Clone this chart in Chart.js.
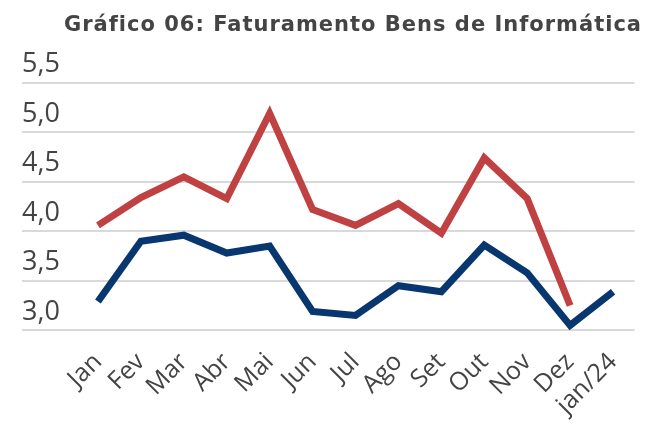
<!DOCTYPE html>
<html>
<head>
<meta charset="utf-8">
<script src="https://cdn.jsdelivr.net/npm/chart.js@4"></script>
<style>
  html, body { margin: 0; padding: 0; background: #fff; }
  #wrap { width: 671px; height: 431px; }
</style>
</head>
<body>
<div id="wrap"><canvas id="chart" width="671" height="431"></canvas></div>
<script>
/* ── data ── */
const months = ['Jan','Fev','Mar','Abr','Mai','Jun','Jul','Ago','Set','Out','Nov','Dez','jan/24'];
const serieVermelha = [4.06, 4.34, 4.55, 4.33, 5.19, 4.22, 4.06, 4.28, 3.98, 4.74, 4.33, 3.25, null];
const serieAzul     = [3.29, 3.90, 3.96, 3.78, 3.85, 3.19, 3.15, 3.45, 3.39, 3.86, 3.58, 3.05, 3.39];
const yTicks = [3.0, 3.5, 4.0, 4.5, 5.0, 5.5];
const titulo = 'Gráfico 06: Faturamento Bens de Informática';

const RED  = '#bf4142';
const NAVY = '#08366f';
const GRID = '#d9d9d9';
const TEXT = '#444';

function lineDataset(data, color) {
  return {
    data,
    borderColor: color,
    backgroundColor: color,
    borderWidth: 7,
    pointRadius: 0,
    tension: 0,
    borderJoinStyle: 'miter',
    borderCapStyle: 'butt',
  };
}

/* title drawn by hand: it sits off-centre, past the plot's right edge */
const titlePlugin = {
  id: 'titulo',
  afterDraw(chart) {
    const ctx = chart.ctx;
    ctx.save();
    ctx.font = 'bold 21px "DejaVu Sans"';
    ctx.letterSpacing = '1px';
    ctx.fillStyle = TEXT;
    ctx.textAlign = 'center';
    ctx.textBaseline = 'middle';
    ctx.fillText(titulo, 353, 26);
    ctx.restore();
  }
};

new Chart(document.getElementById('chart'), {
  type: 'line',
  data: {
    labels: months,
    datasets: [lineDataset(serieVermelha, RED), lineDataset(serieAzul, NAVY)]
  },
  plugins: [titlePlugin],
  options: {
    responsive: false,
    animation: false,
    layout: { padding: { left: 22, right: 36.5, top: 82.7, bottom: 0 } },
    plugins: {
      legend: { display: false },
      tooltip: { enabled: false },
    },
    scales: {
      x: {
        offset: true,
        grid: { display: false },
        border: { display: false },
        ticks: {
          color: TEXT,
          font: { family: 'Open Sans', size: 25 },
          minRotation: 45,
          maxRotation: 45,
          padding: 9,
          autoSkip: false,
        },
        afterFit: s => { s.height = 100.7; }
      },
      y: {
        min: 3, max: 5.5,
        afterBuildTicks: s => { s.ticks = yTicks.map(v => ({ value: v })); },
        grid: { color: GRID, lineWidth: 2, tickLength: 54.5, tickColor: GRID },
        border: { display: false },
        ticks: {
          color: TEXT,
          font: { family: 'Open Sans', size: 27 },
          crossAlign: 'far',
          labelOffset: -18,
          callback: v => v.toFixed(1).replace('.', ','),
        },
        afterFit: s => { s.width = 54.5; }
      }
    }
  }
});
</script>
</body>
</html>
